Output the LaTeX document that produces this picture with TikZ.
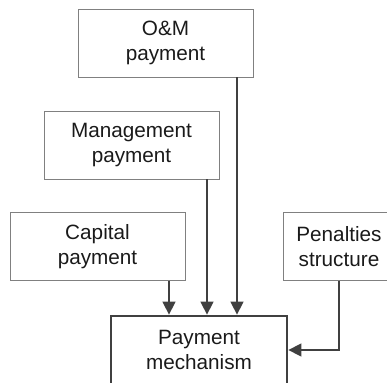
\documentclass[tikz,border=0pt]{standalone}
\usepackage{fontspec}
\setmainfont{Liberation Sans}
\usetikzlibrary{arrows.meta}
\definecolor{boxline}{HTML}{808080}
\definecolor{arrline}{HTML}{404040}
\definecolor{txt}{HTML}{1A1A1A}
\begin{document}
\begin{tikzpicture}[x=1bp,y=-1bp,
  box/.style={draw=boxline,line width=0.9bp,minimum width=175bp,minimum height=68bp,
    align=center,text=txt,inner sep=0pt,font=\fontsize{20.8}{25}\selectfont},
  mainbox/.style={box,draw=arrline,line width=2.8bp,minimum width=176bp},
  arr/.style={draw=arrline,line width=1.5bp,-{Triangle[width=13bp,length=13bp]}}]
\useasboundingbox (0,0) rectangle (387,383);
\node[box] (om) at (165.5,43) {O\&M\\payment};
\node[box] (mgmt) at (131.5,145) {Management\\payment};
\node[box] (cap) at (97.5,246.5) {Capital\\payment};
\node[box,minimum width=112bp] (pen) at (339,246.5) {Penalties\\structure};
\node[mainbox] (main) at (199,350) {Payment\\mechanism};
\draw[arr] (cap.south -| 169,0) -- (main.north -| 169,0);
\draw[arr] (mgmt.south -| 207,0) -- (main.north -| 207,0);
\draw[arr] (om.south -| 237,0) -- (main.north -| 237,0);
\draw[arr] (pen.south) |- (main.east);
\end{tikzpicture}
\end{document}
